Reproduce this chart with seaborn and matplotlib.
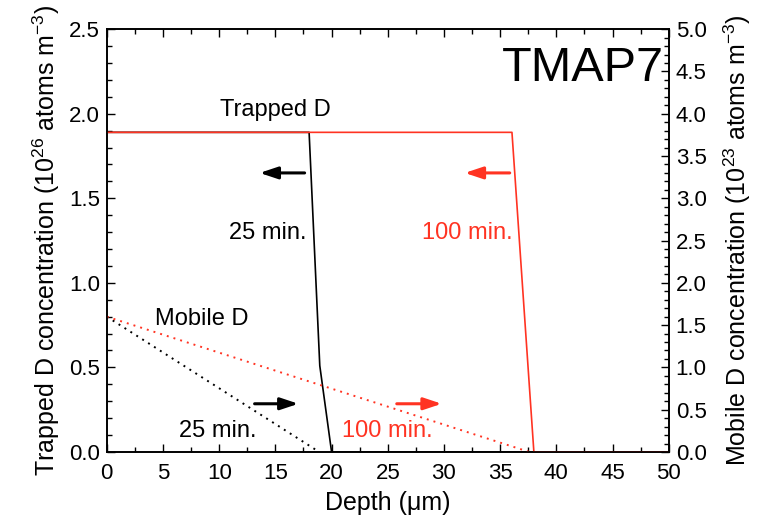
import numpy as np
import pandas as pd
import seaborn as sns
import matplotlib
matplotlib.use("Agg")
import matplotlib.pyplot as plt
from matplotlib.ticker import MultipleLocator, FormatStrFormatter

# data
trap25_depth = [0, 18.0, 18.95, 20.0, 50]
trap25_conc = [1.89, 1.89, 0.51, 0.0, 0.0]
trap100_depth = [0, 36.05, 38.0, 50]
trap100_conc = [1.89, 1.89, 0.0, 0.0]
mob25_depth = [0, 18.9]
mob25_conc = [1.6, 0.0]
mob100_depth = [0, 37.6]
mob100_conc = [1.6, 0.0]

RED = "#ff3322"

sns.set_theme(style="ticks")
plt.rcParams['font.family'] = ['Liberation Sans', 'DejaVu Sans']
plt.rcParams['mathtext.fontset'] = 'custom'
plt.rcParams['mathtext.rm'] = 'Liberation Sans'
plt.rcParams['mathtext.it'] = 'Liberation Sans:italic'
plt.rcParams['text.color'] = 'black'
plt.rcParams['axes.labelcolor'] = 'black'

fig = plt.figure(figsize=(7.74, 5.21), dpi=100)
ax = fig.add_axes([0.138, 0.1325, 0.726, 0.8115])
ax2 = ax.twinx()

dot = (0, (1, 2.6))
sns.lineplot(x=mob25_depth, y=mob25_conc, ax=ax2, color="black", lw=1.4, linestyle=dot)
sns.lineplot(x=mob100_depth, y=mob100_conc, ax=ax2, color=RED, lw=1.4, linestyle=dot)
sns.lineplot(x=trap25_depth, y=trap25_conc, ax=ax, color="black", lw=1.2, sort=False, zorder=3)
sns.lineplot(x=trap100_depth, y=trap100_conc, ax=ax, color=RED, lw=1.2, sort=False, zorder=4)

ax.set_xlim(0, 50)
ax.set_ylim(0, 2.5)
ax2.set_ylim(0, 5.0)
ax2.set_xlim(0, 50)

fs = 16
lfs = 18
ax.xaxis.set_major_locator(MultipleLocator(5))
ax.xaxis.set_minor_locator(MultipleLocator(2.5))
ax.yaxis.set_major_locator(MultipleLocator(0.5))
ax.yaxis.set_minor_locator(MultipleLocator(0.1))
ax2.yaxis.set_major_locator(MultipleLocator(0.5))
ax2.yaxis.set_minor_locator(MultipleLocator(0.1))
ax.yaxis.set_major_formatter(FormatStrFormatter('%.1f'))
ax2.yaxis.set_major_formatter(FormatStrFormatter('%.1f'))

ax.tick_params(which='both', direction='in', top=True, right=False, labelsize=fs,
               width=1, colors='black')
ax.tick_params(which='major', length=6, pad=5)
ax.tick_params(axis='x', which='major', pad=8)
ax.tick_params(which='minor', length=3.5)
ax2.tick_params(which='both', direction='in', labelsize=fs, width=1, colors='black')
ax2.tick_params(which='major', length=6, pad=5)
ax2.tick_params(which='minor', length=3.5)

for a in (ax, ax2):
    for s in a.spines.values():
        s.set_linewidth(1.2)
        s.set_color('black')

ax.set_xlabel("Depth (μm)", fontsize=lfs, labelpad=5)
ax.set_ylabel("Trapped D concentration (10$^{26}$ atoms m$^{-3}$)", fontsize=lfs, labelpad=5)
ax2.set_ylabel("Mobile D concentration (10$^{23}$ atoms m$^{-3}$)", fontsize=lfs, labelpad=11)

# annotations
afs = 17
ax.text(49.6, 2.27, "TMAP7", fontsize=35, ha='right', va='center')
ax.text(10.05, 1.986, "Trapped D", fontsize=afs, ha='left', va='baseline')
ax.text(17.75, 1.26, "25 min.", fontsize=afs, ha='right', va='baseline')
ax.text(36.15, 1.26, "100 min.", fontsize=afs, ha='right', va='baseline', color=RED)
ax.text(4.25, 0.75, "Mobile D", fontsize=afs, ha='left', va='baseline')
ax.text(6.4, 0.09, "25 min.", fontsize=afs, ha='left', va='baseline')
ax.text(20.95, 0.09, "100 min.", fontsize=afs, ha='left', va='baseline', color=RED)

arr = dict(arrowstyle='-|>,head_length=0.9,head_width=0.3', lw=2.2, shrinkA=0, shrinkB=0)
ax.annotate("", xy=(13.6, 1.65), xytext=(17.6, 1.65), arrowprops=dict(arr, color='black'))
ax.annotate("", xy=(31.85, 1.65), xytext=(35.85, 1.65), arrowprops=dict(arr, color=RED))
ax.annotate("", xy=(17.05, 0.285), xytext=(13.15, 0.285), arrowprops=dict(arr, color='black'))
ax.annotate("", xy=(29.8, 0.285), xytext=(25.8, 0.285), arrowprops=dict(arr, color=RED))

fig.savefig("out.png", dpi=100)
